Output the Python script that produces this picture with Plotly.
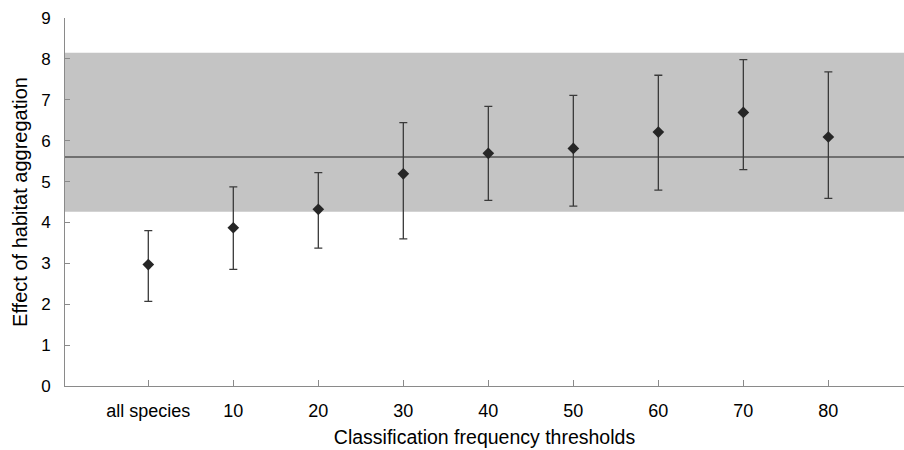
import plotly.graph_objects as go

categories = ["all species", "10", "20", "30", "40", "50", "60", "70", "80"]
effect = [2.97, 3.87, 4.32, 5.19, 5.69, 5.81, 6.21, 6.69, 6.09]
upper = [3.80, 4.87, 5.22, 6.44, 6.84, 7.11, 7.60, 7.98, 7.68]
lower = [2.07, 2.85, 3.37, 3.60, 4.54, 4.40, 4.79, 5.29, 4.59]
band_low = 4.26
band_high = 8.15
reference_mean = 5.60
y_ticks = [0, 1, 2, 3, 4, 5, 6, 7, 8, 9]

xpos = list(range(1, len(categories) + 1))
err_plus = [u - v for u, v in zip(upper, effect)]
err_minus = [v - l for v, l in zip(effect, lower)]

fig = go.Figure()
fig.add_trace(go.Scatter(
    x=xpos, y=effect, mode="markers",
    marker=dict(symbol="diamond", size=9, color="#262626"),
    error_y=dict(type="data", symmetric=False, array=err_plus, arrayminus=err_minus,
                 color="#3a3a3a", thickness=1.3, width=4),
    showlegend=False,
))

fig.add_shape(type="rect", xref="paper", yref="y", x0=0, x1=1, y0=band_low, y1=band_high,
              fillcolor="#c4c4c4", line=dict(width=0), layer="below")
fig.add_shape(type="line", xref="paper", yref="y", x0=0, x1=1, y0=reference_mean, y1=reference_mean,
              line=dict(color="#555555", width=1.5), layer="below")

font_family = "Liberation Sans, Arial, sans-serif"
fig.update_layout(
    width=904, height=450,
    margin=dict(l=65, r=0, t=18, b=64),
    plot_bgcolor="white", paper_bgcolor="white",
    font=dict(family=font_family, color="#000000", size=16),
    xaxis=dict(
        range=[0.02, 9.89], tickvals=xpos, ticktext=categories, automargin=False,
        showgrid=False, zeroline=False, showline=True, linecolor="#8a8a8a", linewidth=1,
        ticks="inside", ticklen=6, tickcolor="#8a8a8a",
        tickfont=dict(size=18), ticklabelstandoff=8,
        title=dict(text="Classification frequency thresholds", font=dict(size=19.5), standoff=10),
    ),
    yaxis=dict(
        range=[0, 9], tickvals=y_ticks, automargin=False,
        showgrid=False, zeroline=False, showline=True, linecolor="#8a8a8a", linewidth=1,
        ticks="inside", ticklen=5, tickcolor="#8a8a8a",
        tickfont=dict(size=17), ticklabelstandoff=10,
        title=dict(text="Effect of habitat aggregation", font=dict(size=20), standoff=8),
    ),
)

fig.write_html(
    "out.html",
    config={"displayModeBar": False},
    post_script="document.body.style.margin='0';document.body.style.overflow='hidden';",
)
